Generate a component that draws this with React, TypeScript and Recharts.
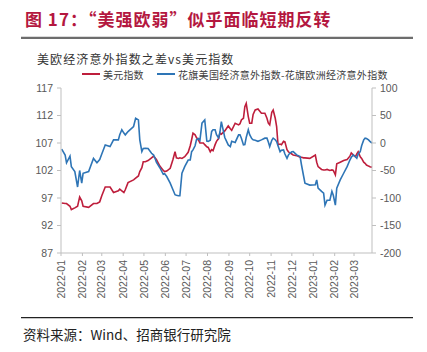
import React from "react";
import { LineChart, Line, XAxis, YAxis } from "recharts";

const dates = [
  "2022-01-02","2022-01-07","2022-01-09","2022-01-14","2022-01-16","2022-01-21","2022-01-25","2022-01-28","2022-01-31",
  "2022-02-02","2022-02-10","2022-02-17","2022-02-22","2022-02-26",
  "2022-03-01","2022-03-06","2022-03-13","2022-03-18","2022-03-25","2022-03-27","2022-03-30",
  "2022-04-02","2022-04-04","2022-04-08","2022-04-16","2022-04-19","2022-04-23","2022-04-25","2022-04-28","2022-04-30",
  "2022-05-03","2022-05-07","2022-05-12","2022-05-15","2022-05-17","2022-05-19","2022-05-24","2022-05-29","2022-05-31",
  "2022-06-03","2022-06-08","2022-06-12","2022-06-15","2022-06-17","2022-06-20","2022-06-22","2022-06-25","2022-06-29",
  "2022-07-04","2022-07-07","2022-07-09","2022-07-11","2022-07-14","2022-07-16","2022-07-19","2022-07-21","2022-07-24","2022-07-26","2022-07-28","2022-07-31",
  "2022-08-02","2022-08-05","2022-08-07","2022-08-09","2022-08-12","2022-08-14","2022-08-17","2022-08-19","2022-08-21","2022-08-26","2022-08-31",
  "2022-09-03","2022-09-05","2022-09-10","2022-09-15","2022-09-17","2022-09-19","2022-09-22","2022-09-24","2022-09-26","2022-09-29",
  "2022-10-01","2022-10-04","2022-10-06","2022-10-09","2022-10-13","2022-10-18","2022-10-23","2022-10-26","2022-10-28","2022-10-30",
  "2022-11-02","2022-11-04","2022-11-07","2022-11-09","2022-11-11","2022-11-14","2022-11-16","2022-11-19","2022-11-21","2022-11-24","2022-11-26","2022-11-28",
  "2022-12-01","2022-12-03","2022-12-08","2022-12-13","2022-12-15","2022-12-18","2022-12-20","2022-12-27",
  "2023-01-04","2023-01-06","2023-01-08","2023-01-13","2023-01-16","2023-01-18","2023-01-21","2023-01-25","2023-01-28","2023-01-30",
  "2023-02-02","2023-02-04","2023-02-09","2023-02-14","2023-02-19","2023-02-23","2023-02-25","2023-02-28",
  "2023-03-03","2023-03-05","2023-03-07","2023-03-10","2023-03-12","2023-03-15","2023-03-17","2023-03-19","2023-03-22","2023-03-24","2023-03-27",
];

const usdIndex = [
  96.1, 96, 96, 95.5, 94.9, 95.2, 95.5, 97.2, 96.5,
  95.5, 95.3, 96, 96, 96.3,
  97.4, 99, 99, 98, 98.3, 98.6, 98.3,
  98, 98.5, 99.8, 100.3, 100.6, 101, 101.8, 102.5, 103.6,
  103.6, 103.8, 104.3, 104.6, 104.3, 104, 102.8, 102, 101.8,
  101.9, 102.4, 104, 105.4, 104.3, 104.2, 104.3, 104.2, 104.5,
  105.3, 106.5, 107.6, 108.8, 108.5, 108, 107.5, 107, 107, 107, 106.7, 106.3,
  106.2, 105.4, 105.8, 105.6, 106.7, 107.3, 107.8, 108.8, 108.6, 109.2, 110.1,
  109.6, 109.3, 110.6, 110.3, 110.5, 111.2, 111.5, 113.6, 114.2, 111.8,
  110.6, 110.6, 112.2, 113, 113.2, 112.4, 112.4, 111.5, 110.6, 110.3,
  112.6, 113, 111.5, 110, 106.7, 106.8, 106.7, 107.3, 107.2, 105.8, 105.4, 105.2,
  105, 104.8, 104.7, 104.4, 104.4, 104.3, 104.3, 104.2,
  104.8, 103.5, 102.7, 102.2, 102.1, 102.1, 102.2, 102, 102.1, 102,
  101.2, 103.2, 103.5, 103.8, 104, 104.6, 105.2, 104.8,
  104.5, 105, 105.4, 104.5, 104.2, 103.5, 103.3, 103, 102.8, 102.7, 102.6,
];

const surpriseSpread = [
  -11, -22, -36, -24, -43, -52, -80, -50, -73,
  -55, -52, -28, -36, -30,
  -20, -3.5, -6.5, 5.7, 5.7, 15, 24,
  18, 14.8, 20.8, 30, 45, 42, 5.7, -15.7, -10,
  -9.6, -10, -18.7, -22, -27.7, -35, -45, -57, -56,
  -61, -73, -85, -94, -95, -96, -96, -55, -43,
  -31, -31, -15.7, -12.6, -5, 5.7, 8, 5, 36, 39, 42, 3.6,
  3, 5, 21, 24, 24, 15, 9, 20, 39, 10, -3.5,
  -6.5, 3, 1, 14.8, 15, 8.8, -3.5, -3, 10, 24,
  15, 8, 5.7, 5, 3, 5.7, 8.8, 8.8, 2, -6.5,
  5, 8.8, 6, 2.6, -5, -15.7, -13, -12.6, -20, -27.7, -22, -18.7,
  -16, -15.7, -21.7, -24.7, -40, -60, -73, -76.5,
  -76, -67, -82, -88, -91, -113, -104, -104, -88, -95,
  -113, -82, -67, -55, -43, -31, -26, -21.7,
  -25, -27.7, -20, -15.7, -5, 5.7, 8.8, 8, 5.7, 3, 0,
];

const monthTicks = [
  "2022-01","2022-02","2022-03","2022-04","2022-05","2022-06","2022-07","2022-08",
  "2022-09","2022-10","2022-11","2022-12","2023-01","2023-02","2023-03",
];
const leftTicks = [87, 92, 97, 102, 107, 112, 117];
const rightTicks = [-200, -150, -100, -50, 0, 50, 100];

const BASE = Date.UTC(2022, 0, 1);
const toDay = (s: string) => (Date.parse(s + "T00:00:00Z") - BASE) / 86400000;

const rows = dates.map((d, i) => ({ day: toDay(d), usd: usdIndex[i], spread: surpriseSpread[i] }));
const tickDays = monthTicks.map((m) => toDay(m + "-01"));
const tickLabel = (v: number) => {
  const i = tickDays.indexOf(v);
  return i >= 0 ? monthTicks[i] : "";
};

const AX = "#BFBFBF";
const TXT = "#595959";
const SANS = "'Liberation Sans', Arial, sans-serif";
const CJK = "'Noto Sans CJK SC', sans-serif";
const RED = "#BE1E3C";
const BLUE = "#2E75B6";

const RotTick = (props: any) => {
  const { x, y, payload } = props;
  const ay = y + 2;
  return (
    <text
      x={x}
      y={ay}
      transform={`rotate(-90, ${x}, ${ay})`}
      textAnchor="end"
      dy="0.35em"
      fontSize={10.5}
      fontFamily={SANS}
      fill={TXT}
    >
      {tickLabel(payload.value)}
    </text>
  );
};

export default function App() {
  return (
    <div style={{ position: "absolute", left: 0, top: 0, width: 427, height: 352, background: "#fff" }}>
      <LineChart
        width={427}
        height={352}
        data={rows}
        margin={{ top: 88, right: 0, left: 0, bottom: 44 }}
      >
        <XAxis
          dataKey="day"
          type="number"
          domain={[0, 450]}
          ticks={tickDays}
          interval={0}
          height={55}
          tick={<RotTick />}
          tickSize={3}
          axisLine={{ stroke: AX }}
          tickLine={{ stroke: AX }}
        />
        <YAxis
          yAxisId="left"
          orientation="left"
          width={61}
          domain={[87, 117]}
          ticks={leftTicks}
          interval={0}
          tickSize={4}
          tickMargin={4}
          axisLine={{ stroke: AX }}
          tickLine={{ stroke: AX }}
          tick={{ fill: TXT, fontSize: 10.5, fontFamily: SANS }}
        />
        <YAxis
          yAxisId="right"
          orientation="right"
          width={55}
          domain={[-200, 100]}
          ticks={rightTicks}
          interval={0}
          tickSize={4}
          tickMargin={4}
          axisLine={{ stroke: AX }}
          tickLine={{ stroke: AX }}
          tick={{ fill: TXT, fontSize: 10.5, fontFamily: SANS }}
        />
        <Line
          yAxisId="left"
          dataKey="usd"
          stroke={RED}
          strokeWidth={1.6}
          dot={false}
          isAnimationActive={false}
        />
        <Line
          yAxisId="right"
          dataKey="spread"
          stroke={BLUE}
          strokeWidth={1.6}
          dot={false}
          isAnimationActive={false}
        />
      </LineChart>
      <svg
        width={427}
        height={352}
        style={{ position: "absolute", left: 0, top: 0, pointerEvents: "none" }}
      >
        <text x={25} y={18} dominantBaseline="central" fontFamily={CJK} fontWeight="bold" fontSize={17} letterSpacing={1} fill="#B4173F">
          图 17：“美强欧弱”似乎面临短期反转
        </text>
        <line x1={21} x2={413} y1={37.8} y2={37.8} stroke="#6D6D6D" strokeWidth={2.3} />
        <text x={37} y={58.5} dominantBaseline="central" fontFamily={CJK} fontSize={12} letterSpacing={1.1} fill="#333">
          美欧经济意外指数之差vs美元指数
        </text>
        <line x1={82} x2={100} y1={74} y2={74} stroke={RED} strokeWidth={2} />
        <text x={103} y={74} dominantBaseline="central" fontFamily={CJK} fontSize={10} letterSpacing={0.2} fill="#404040">
          美元指数
        </text>
        <line x1={157} x2={175} y1={74} y2={74} stroke={BLUE} strokeWidth={2} />
        <text x={178} y={74} dominantBaseline="central" fontFamily={CJK} fontSize={10} letterSpacing={0.3} fill="#404040">
          花旗美国经济意外指数-花旗欧洲经济意外指数
        </text>
        <line x1={21} x2={413} y1={317.7} y2={317.7} stroke="#222" strokeWidth={1.3} />
        <text x={23} y={333.5} dominantBaseline="central" fontFamily={CJK} fontSize={13.5} fill="#222">
          资料来源：Wind、招商银行研究院
        </text>
      </svg>
    </div>
  );
}
